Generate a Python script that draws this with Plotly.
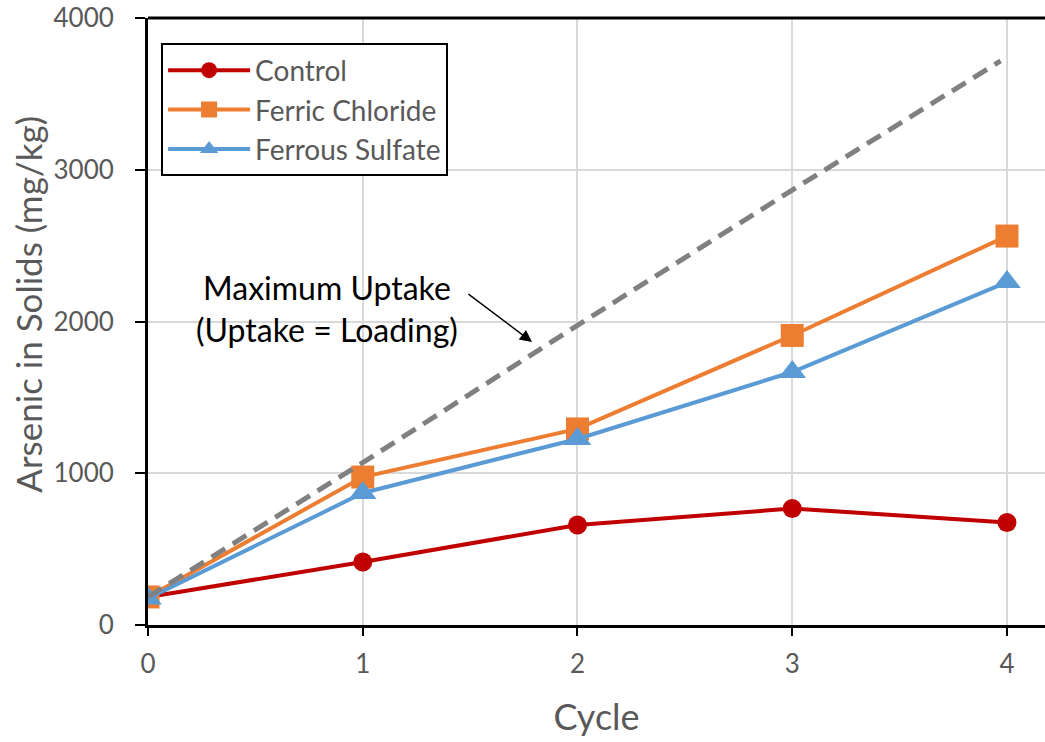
import plotly.graph_objects as go

cycles = [0, 1, 2, 3, 4]
control = [185, 415, 659, 768, 676]
ferric_chloride = [185, 975, 1292, 1908, 2563]
ferrous_sulfate = [175, 870, 1226, 1667, 2260]

max_cycles = [0, 1, 2, 3, 3.97]
max_uptake = [185, 1070, 1975, 2866, 3717]

y_ticks = [0, 1000, 2000, 3000, 4000]
x_ticks = [0, 1, 2, 3, 4]

FONT = "Lato, 'Open Sans', sans-serif"
GRAY_TXT = "#595959"

fig = go.Figure()
fig.add_trace(go.Scatter(
    x=cycles, y=control, name="Control", mode="lines+markers",
    line=dict(color="#C00000", width=4),
    marker=dict(symbol="circle", size=19, color="#C00000"),
))
fig.add_trace(go.Scatter(
    x=cycles, y=ferric_chloride, name="Ferric Chloride", mode="lines+markers",
    line=dict(color="#ED7D31", width=4),
    marker=dict(symbol="square", size=23, color="#ED7D31"),
))
fig.add_trace(go.Scatter(
    x=cycles, y=ferrous_sulfate, name="Ferrous Sulfate", mode="lines+markers",
    line=dict(color="#5B9BD5", width=4),
    marker=dict(symbol="triangle-up", size=24, color="#5B9BD5"),
))
fig.add_trace(go.Scatter(
    x=max_cycles, y=max_uptake, name="Maximum Uptake", mode="lines",
    line=dict(color="#808080", width=5, dash="16px,9px"),
    showlegend=False,
))

# arrow pointing at the maximum-uptake line
fig.add_annotation(
    x=1.788, y=1865, xref="x", yref="y",
    ax=-65, ay=-49,
    text="", showarrow=True, arrowhead=2, arrowsize=1.6, arrowwidth=1.5,
    arrowcolor="black",
)
fig.add_annotation(
    x=0.835, y=2085, xref="x", yref="y",
    text="Maximum Uptake<br>(Uptake = Loading)", showarrow=False,
    font=dict(family=FONT, size=32, color="black"), align="center",
)

# y-axis title, placed slightly above the plot-area centre
fig.add_annotation(
    x=-0.134, y=0.529, xref="paper", yref="paper",
    xanchor="center", yanchor="middle",
    text="Arsenic in Solids (mg/kg)", textangle=-90, showarrow=False,
    font=dict(family=FONT, size=35, color=GRAY_TXT),
)

# top border of the plot area
fig.add_shape(
    type="line", xref="paper", yref="paper", x0=0, x1=1, y0=1, y1=1,
    line=dict(color="black", width=3),
)

fig.update_layout(
    width=1045, height=742,
    margin=dict(l=148, r=0, t=18, b=117),
    paper_bgcolor="white", plot_bgcolor="white",
    font=dict(family=FONT, color=GRAY_TXT),
    showlegend=True,
    legend=dict(
        x=0.0146, y=0.958, xanchor="left", yanchor="top",
        bordercolor="black", borderwidth=2, bgcolor="white",
        font=dict(family=FONT, size=28, color=GRAY_TXT),
        itemwidth=82, tracegroupgap=0,
    ),
    xaxis=dict(
        range=[0, 4.177], tickvals=x_ticks,
        showgrid=True, gridcolor="#D9D9D9", gridwidth=2,
        showline=True, linecolor="black", linewidth=3,
        ticks="outside", ticklen=8, tickwidth=2, tickcolor="black",
        ticklabelstandoff=6,
        tickfont=dict(family=FONT, size=26, color=GRAY_TXT),
        title=dict(text="Cycle", font=dict(family=FONT, size=36, color=GRAY_TXT), standoff=27),
        zeroline=False,
    ),
    yaxis=dict(
        range=[0, 4000], tickvals=y_ticks,
        showgrid=True, gridcolor="#D9D9D9", gridwidth=2,
        showline=True, linecolor="black", linewidth=3,
        ticks="outside", ticklen=10, tickwidth=2, tickcolor="black",
        ticklabelstandoff=16,
        tickfont=dict(family=FONT, size=26, color=GRAY_TXT),
        zeroline=False,
    ),
)

fig.write_html("out.html")
